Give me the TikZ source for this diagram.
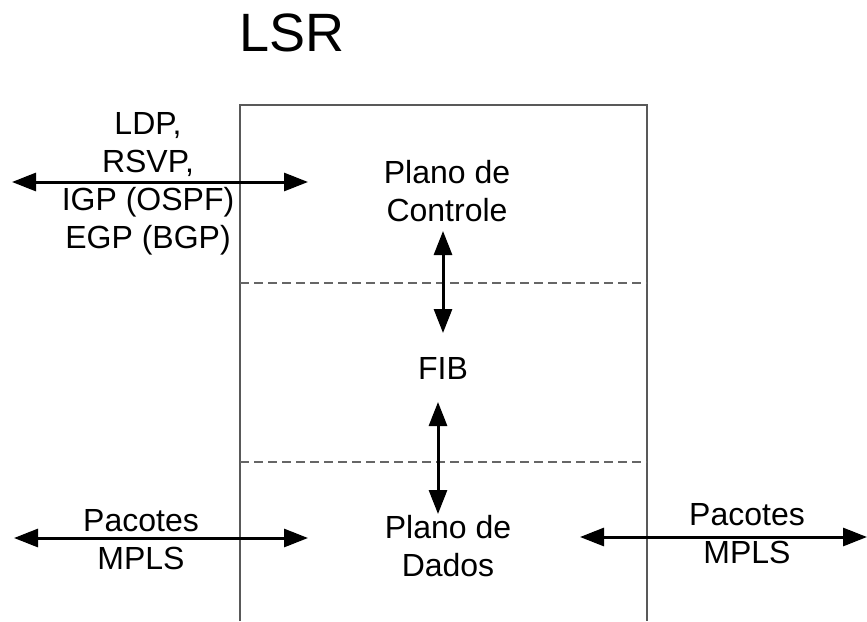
\documentclass[tikz,border=0pt]{standalone}
\usepackage{fontspec}
\setmainfont{Liberation Sans}
\usetikzlibrary{arrows.meta}
\begin{document}
\begin{tikzpicture}[x=1pt,y=-1pt,
  lbl/.style={align=center,inner sep=0pt,font=\fontsize{32}{38}\selectfont},
  dbl/.style={line width=3pt,{Triangle[length=24pt,width=18pt]}-{Triangle[length=24pt,width=18pt]}},
  frame/.style={draw=black!65,line width=1.2pt},
  sep/.style={draw=black!60,line width=1.3pt,dash pattern=on 9pt off 5pt}]
\useasboundingbox (0,0) rectangle (867,621);
% frame
\coordinate (bl) at (240,621);
\coordinate (tl) at (240,105);
\coordinate (tr) at (647,105);
\coordinate (br) at (647,621);
\draw[frame] (bl) -- (tl) -- (tr) -- (br);
\coordinate (d1l) at (240,283); \coordinate (d1r) at (647,283);
\coordinate (d2l) at (240,462); \coordinate (d2r) at (647,462);
\draw[sep] (d1l) -- (d1r);
\draw[sep] (d2l) -- (d2r);
% title
\node[inner sep=0pt,font=\fontsize{54}{60}\selectfont] (title) at (292,33) {LSR};
% texts
\node[lbl] (proto) at (148,184) {LDP,\\RSVP,\\IGP (OSPF)\\EGP (BGP)};
\node[lbl] (ctrl) at (447,191) {Plano de\\Controle};
\node[lbl] (fib) at (443,368) {FIB};
\node[lbl] (dados) at (448,546) {Plano de\\Dados};
\node[lbl] (pl) at (141,540) {Pacotes\\MPLS};
\node[lbl] (pr) at (747,534) {Pacotes\\MPLS};
% arrows
\coordinate (a1) at (12,182); \coordinate (a2) at (308,182);
\draw[dbl] (a1) -- (a2);
\coordinate (v1) at (443,231); \coordinate (v2) at (443,333);
\draw[dbl] (v1) -- (v2);
\coordinate (v3) at (438,402); \coordinate (v4) at (438,514);
\draw[dbl] (v3) -- (v4);
\coordinate (b1) at (14,538); \coordinate (b2) at (308,538);
\draw[dbl] (b1) -- (b2);
\coordinate (c1) at (580,537); \coordinate (c2) at (867,537);
\draw[dbl] (c1) -- (c2);
\end{tikzpicture}
\end{document}
